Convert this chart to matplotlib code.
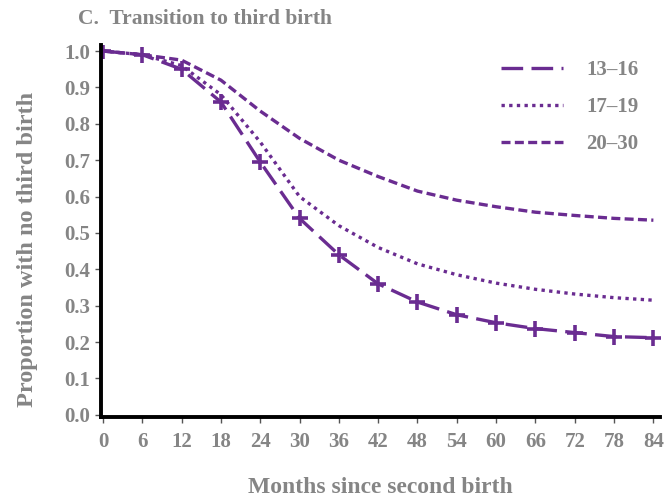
import matplotlib
matplotlib.use("Agg")
import matplotlib.pyplot as plt

months = [0, 6, 12, 18, 24, 30, 36, 42, 48, 54, 60, 66, 72, 78, 84]
age_13_16 = [1.0, 0.99, 0.95, 0.86, 0.695, 0.54, 0.44, 0.36, 0.31, 0.275, 0.253, 0.237, 0.226, 0.215, 0.212]
age_17_19 = [1.0, 0.99, 0.96, 0.88, 0.75, 0.60, 0.52, 0.46, 0.415, 0.385, 0.362, 0.345, 0.332, 0.322, 0.315]
age_20_30 = [1.0, 0.99, 0.975, 0.92, 0.835, 0.76, 0.70, 0.655, 0.615, 0.59, 0.572, 0.557, 0.548, 0.54, 0.535]
yticks = [0.0, 0.1, 0.2, 0.3, 0.4, 0.5, 0.6, 0.7, 0.8, 0.9, 1.0]

purple = '#6a2c91'
grey = '#858585'
plt.rcParams['font.family'] = ['Liberation Serif', 'DejaVu Serif']
plt.rcParams['font.weight'] = 'bold'

fig = plt.figure(figsize=(6.67, 4.97), dpi=100)
ax = fig.add_axes([0.1514, 0.161, 0.838, 0.748])

ax.plot(months, age_13_16, color=purple, lw=2.4, dashes=(6.5, 2.5), label='13\u201316')
ax.plot(months, age_13_16, color=purple, lw=0, marker='+', ms=11, mew=2.6)
ax.plot(months, age_17_19, color=purple, lw=2.4, dashes=(1, 1.3), label='17\u201319')
ax.plot(months, age_20_30, color=purple, lw=2.4, dashes=(2.7, 1.3), label='20\u201330')

ax.set_xlim(-0.3, 85)
ax.set_ylim(-0.006, 1.016)
ax.set_xticks(months)
ax.set_yticks(yticks)
ax.set_yticklabels(['%.1f' % v for v in yticks])
for s in ['top', 'right']:
    ax.spines[s].set_visible(False)
for s in ['left', 'bottom']:
    ax.spines[s].set_linewidth(2.8)
ax.tick_params(colors='#555555', labelcolor=grey, labelsize=15, length=4, width=1)
ax.tick_params(axis='x', pad=7)
for lab in ax.get_xticklabels() + ax.get_yticklabels():
    lab.set_fontweight('bold')

ax.set_xlabel('Months since second birth', color=grey, fontsize=17, fontweight='bold', labelpad=18)
ax.set_ylabel('Proportion with no third birth', color=grey, fontsize=17.5, fontweight='bold')
ax.yaxis.set_label_coords(-0.112, 0.45)
fig.text(0.117, 0.962, 'C.  Transition to third birth', color=grey, fontsize=15.5,
         fontweight='bold', va='center')

leg = ax.legend(loc='upper right', frameon=False, handlelength=3.0, handletextpad=1.1,
                labelspacing=0.82, fontsize=15, bbox_to_anchor=(0.995, 1.01))
for t in leg.get_texts():
    t.set_color(grey)

fig.savefig('out.png', dpi=100)
